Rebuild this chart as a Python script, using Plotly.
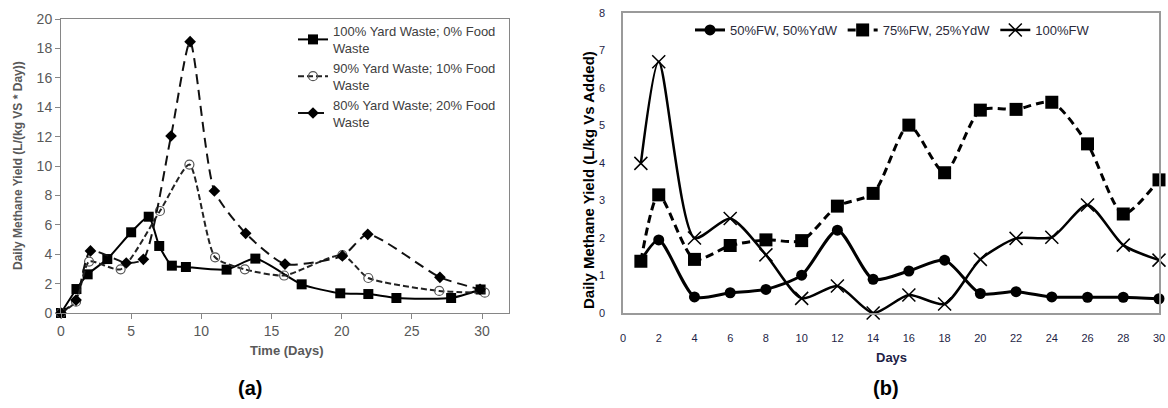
import plotly.graph_objects as go

# ---------------- Panel (a) data ----------------
yw100_days = [0, 1.1, 1.9, 3.3, 5.0, 6.25, 7.0, 7.9, 8.9, 11.8, 13.85, 17.15, 19.9, 21.9, 23.9, 27.8, 29.9]
yw100_vals = [0, 1.63, 2.63, 3.67, 5.49, 6.55, 4.56, 3.22, 3.13, 2.95, 3.7, 1.95, 1.34, 1.29, 1.02, 1.02, 1.6]

yw90_days = [0, 1.07, 2.0, 4.25, 7.05, 9.15, 10.98, 13.1, 15.9, 20.05, 21.9, 26.95, 30.2]
yw90_vals = [0, 0.77, 3.5, 2.97, 6.94, 10.1, 3.79, 2.97, 2.55, 3.94, 2.38, 1.5, 1.38]

yw80_days = [0, 1.07, 2.1, 4.65, 5.87, 7.84, 9.2, 10.93, 13.16, 15.96, 20.05, 21.86, 27.0, 29.86]
yw80_vals = [0, 0.88, 4.22, 3.4, 3.65, 12.04, 18.46, 8.3, 5.42, 3.33, 3.88, 5.35, 2.43, 1.61]

a_names = ["100% Yard Waste; 0% Food<br>Waste",
           "90% Yard Waste; 10% Food<br>Waste",
           "80% Yard Waste; 20% Food<br>Waste"]
a_yticks = [0, 2, 4, 6, 8, 10, 12, 14, 16, 18, 20]
a_xticks = [0, 5, 10, 15, 20, 25, 30]

# ---------------- Panel (b) data ----------------
b_days = [1, 2, 4, 6, 8, 10, 12, 14, 16, 18, 20, 22, 24, 26, 28, 30]
fw50 = [1.4, 1.95, 0.43, 0.54, 0.63, 1.01, 2.21, 0.9, 1.12, 1.41, 0.52, 0.57, 0.43, 0.42, 0.42, 0.38]
fw75 = [1.38, 3.15, 1.43, 1.8, 1.95, 1.93, 2.85, 3.19, 5.01, 3.74, 5.41, 5.43, 5.62, 4.51, 2.64, 3.55]
fw100 = [3.99, 6.7, 2.0, 2.52, 1.55, 0.39, 0.72, 0.0, 0.48, 0.24, 1.43, 1.99, 2.02, 2.88, 1.81, 1.41]
b_names = ["50%FW, 50%YdW", "75%FW, 25%YdW", "100%FW"]
b_xticks = list(range(0, 31, 2))
b_yticks = list(range(0, 9))

W, H = 1168, 408
def px_x(p): return p / W
def px_y(p): return 1 - p / H

fig = go.Figure()

# Panel (a) traces
fig.add_trace(go.Scatter(x=yw100_days, y=yw100_vals, name=a_names[0], mode="lines+markers",
                         line=dict(color="black", width=2, shape="spline", smoothing=0.6),
                         marker=dict(symbol="square", size=10, color="black"),
                         xaxis="x", yaxis="y", legend="legend", legendgroup="a1", cliponaxis=False))
fig.add_trace(go.Scatter(x=yw90_days, y=yw90_vals, name=a_names[1], mode="lines+markers",
                         line=dict(color="#222222", width=2, dash="6px,3px", shape="spline", smoothing=0.6),
                         marker=dict(symbol="circle-open", size=9, color="#555555", line=dict(width=1.2)),
                         xaxis="x", yaxis="y", legend="legend", legendgroup="a2", cliponaxis=False))
fig.add_trace(go.Scatter(x=yw80_days, y=yw80_vals, name=a_names[2], mode="lines+markers",
                         line=dict(color="#111111", width=2, dash="10px,6px", shape="spline", smoothing=0.6),
                         marker=dict(symbol="diamond", size=9, color="black"),
                         xaxis="x", yaxis="y", legend="legend", legendgroup="a3", cliponaxis=False))

# Panel (b) traces
fig.add_trace(go.Scatter(x=b_days, y=fw50, name=b_names[0], mode="lines+markers",
                         line=dict(color="black", width=3, shape="spline", smoothing=0.7),
                         marker=dict(symbol="circle", size=11, color="black"),
                         xaxis="x2", yaxis="y2", legend="legend2", cliponaxis=False))
fig.add_trace(go.Scatter(x=b_days, y=fw75, name=b_names[1], mode="lines+markers",
                         line=dict(color="black", width=3, dash="8px,5px", shape="spline", smoothing=0.7),
                         marker=dict(symbol="square", size=13, color="black"),
                         xaxis="x2", yaxis="y2", legend="legend2", cliponaxis=False))
fig.add_trace(go.Scatter(x=b_days, y=fw100, name=b_names[2], mode="lines+markers",
                         line=dict(color="black", width=2.5, shape="spline", smoothing=0.7),
                         marker=dict(symbol="x-thin-open", size=13, color="black", line=dict(width=1.5, color="black")),
                         xaxis="x2", yaxis="y2", legend="legend2", cliponaxis=False))

axis_a_font = dict(family="Liberation Sans, Arial, sans-serif", size=14, color="#595959")
axis_b_font = dict(family="Liberation Sans, Arial, sans-serif", size=11, color="#1e1e46")

def ann(text, x, y, size, color, angle=0, family="Liberation Sans, Arial, sans-serif"):
    return dict(text=text, x=px_x(x), y=px_y(y), xref="paper", yref="paper",
                xanchor="center", yanchor="middle", textangle=angle, showarrow=False,
                font=dict(family=family, size=size, color=color))

fig.update_layout(
    template="none",
    width=W, height=H,
    margin=dict(l=0, r=0, t=0, b=0, pad=0),
    paper_bgcolor="white", plot_bgcolor="white",
    xaxis=dict(domain=[px_x(61), px_x(509)], range=[0, 30 * 448 / 421], tickvals=a_xticks,
               showgrid=False, zeroline=False, showline=True, linecolor="#868686", linewidth=1,
               mirror=True, ticks="outside", ticklen=5, tickcolor="#868686",
               tickfont=axis_a_font, anchor="y", automargin=False),
    yaxis=dict(domain=[px_y(313), px_y(19)], range=[0, 20], tickvals=a_yticks,
               showgrid=False, zeroline=False, showline=True, linecolor="#868686", linewidth=1,
               mirror=True, ticks="outside", ticklen=5, tickcolor="#868686",
               tickfont=axis_a_font, anchor="x", automargin=False),
    xaxis2=dict(domain=[px_x(623), px_x(1159)], range=[0, 30], tickvals=b_xticks,
                showgrid=False, zeroline=False, showline=True, linecolor="#9a9a9a", linewidth=1.5,
                mirror=True, ticks="", tickfont=axis_b_font, anchor="y2", ticklabelstandoff=14,
                automargin=False),
    yaxis2=dict(domain=[px_y(313), px_y(13)], range=[0, 8], tickvals=b_yticks,
                showgrid=False, zeroline=False, showline=True, linecolor="#9a9a9a", linewidth=1.5,
                mirror=True, ticks="", tickfont=axis_b_font, anchor="x2", ticklabelstandoff=14,
                automargin=False),
    legend=dict(x=px_x(293), y=px_y(16), xanchor="left", yanchor="top",
                bgcolor="rgba(0,0,0,0)", borderwidth=0,
                font=dict(family="Liberation Sans, Arial, sans-serif", size=13, color="#404040"),
                itemwidth=30, tracegroupgap=0),
    legend2=dict(x=px_x(690), y=px_y(30), xanchor="left", yanchor="middle", orientation="h",
                 bgcolor="rgba(0,0,0,0)", borderwidth=0,
                 font=dict(family="Liberation Sans Narrow, Liberation Sans, Arial, sans-serif", size=13, color="#2a2a3a"),
                 itemwidth=30),
    showlegend=True,
    annotations=[
        ann("<b>Daily Methane Yield (L/(kg VS * Day))</b>", 18, 166, 12, "#595959", -90),
        ann("<b>Time (Days)</b>", 286, 350, 13, "#595959"),
        ann("<b>(a)</b>", 250, 388, 20, "black"),
        ann("<b>Daily Methane Yield (L/kg Vs Added)</b>", 588, 180, 15, "black", -90,
            "Liberation Sans Narrow, Liberation Sans, Arial, sans-serif"),
        ann("<b>Days</b>", 891, 357, 13, "#1e1e46"),
        ann("<b>(b)</b>", 886, 388, 20, "black"),
    ],
)

fig.write_html("out.html", config={"displayModeBar": False},
               post_script="document.body.style.margin='0';document.body.style.overflow='hidden';")
